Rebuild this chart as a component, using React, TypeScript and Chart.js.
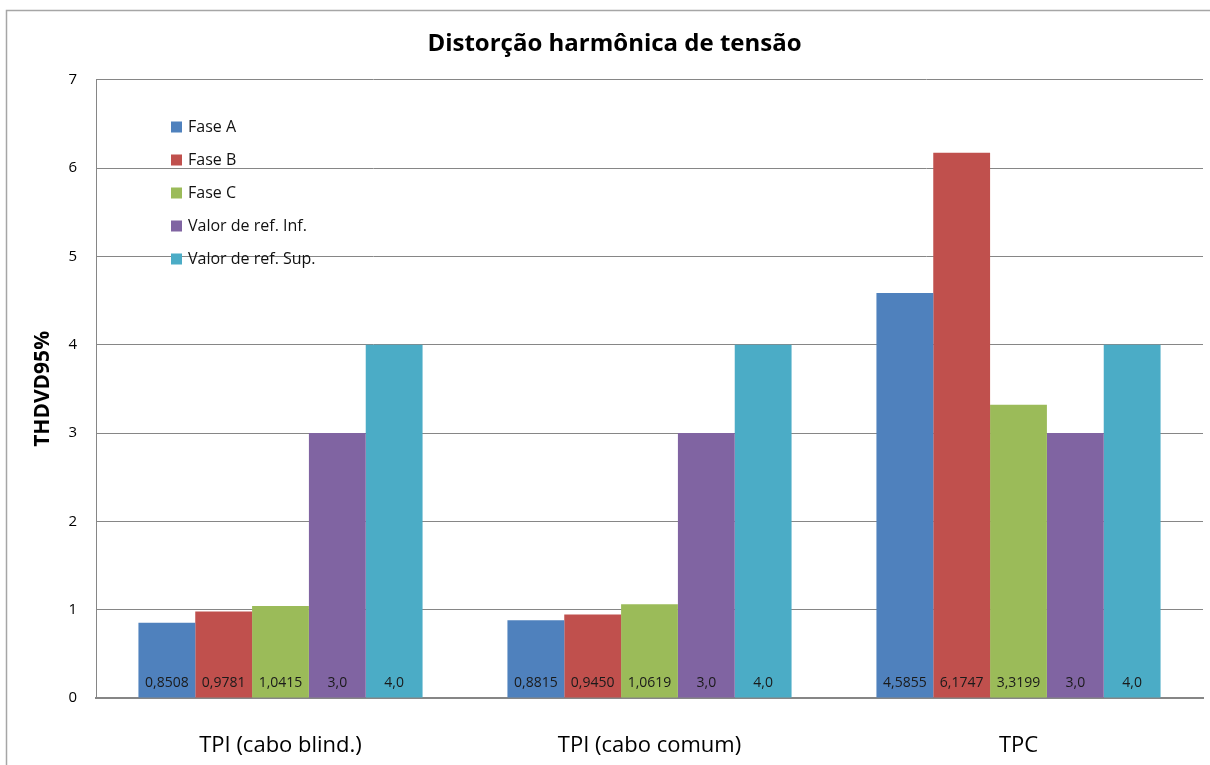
import React, { useEffect, useRef } from "react";
import { Chart, registerables } from "chart.js";

Chart.register(...registerables);

const categories = ["TPI (cabo blind.)", "TPI (cabo comum)", "TPC"];
const seriesNames = ["Fase A", "Fase B", "Fase C", "Valor de ref. Inf.", "Valor de ref. Sup."];
const faseA = [0.8508, 0.8815, 4.5855];
const faseB = [0.9781, 0.945, 6.1747];
const faseC = [1.0415, 1.0619, 3.3199];
const refInf = [3.0, 3.0, 3.0];
const refSup = [4.0, 4.0, 4.0];
const labelDecimals = [4, 4, 4, 1, 1];
const seriesColors = ["#4F81BD", "#C0504D", "#9BBB59", "#8064A2", "#4BACC6"];
const yMin = 0;
const yMax = 7;
const yStep = 1;
const chartTitle = "Distorção harmônica de tensão";
const yTitle = "THDVD95%";

const FONT = "'Open Sans', 'Liberation Sans', sans-serif";
const GRID = "#868686";

const framePlugin = {
  id: "frame",
  beforeDraw(chart: any) {
    const { ctx, width, height } = chart;
    ctx.save();
    ctx.fillStyle = "#ffffff";
    ctx.fillRect(0, 0, width, height);
    ctx.strokeStyle = "#a6a6a6";
    ctx.lineWidth = 1.5;
    ctx.strokeRect(6.5, 10.5, width + 20, height + 20);
    ctx.restore();
  },
};

const valueLabelPlugin = {
  id: "valueLabels",
  afterDatasetsDraw(chart: any) {
    const { ctx } = chart;
    ctx.save();
    ctx.font = `14px ${FONT}`;
    ctx.fillStyle = "#1a1a1a";
    ctx.textAlign = "center";
    ctx.textBaseline = "middle";
    chart.data.datasets.forEach((ds: any, di: number) => {
      const meta = chart.getDatasetMeta(di);
      meta.data.forEach((bar: any, i: number) => {
        const v = ds.data[i] as number;
        const txt = v.toFixed(labelDecimals[di]).replace(".", ",");
        ctx.fillText(txt, bar.x, bar.base - 14);
      });
    });
    ctx.restore();
  },
};

const customLegendPlugin = {
  id: "customLegend",
  afterDraw(chart: any) {
    const { ctx } = chart;
    ctx.save();
    ctx.font = `16px ${FONT}`;
    ctx.textBaseline = "middle";
    ctx.textAlign = "left";
    chart.data.datasets.forEach((ds: any, i: number) => {
      const cy = 127 + i * 33;
      ctx.fillStyle = ds.backgroundColor;
      ctx.fillRect(171, cy - 5.5, 11, 11);
      ctx.fillStyle = "#111111";
      ctx.fillText(ds.label, 188, cy);
    });
    ctx.restore();
  },
};

export default function App() {
  const canvasRef = useRef<HTMLCanvasElement | null>(null);

  useEffect(() => {
    const canvas = canvasRef.current;
    if (!canvas) return;
    const seriesData = [faseA, faseB, faseC, refInf, refSup];
    const chart = new Chart(canvas, {
      type: "bar",
      data: {
        labels: categories,
        datasets: seriesData.map((d, i) => ({
          label: seriesNames[i],
          data: d,
          backgroundColor: seriesColors[i],
          borderWidth: 0,
          barPercentage: 1,
          categoryPercentage: 0.77,
        })),
      },
      options: {
        responsive: false,
        animation: false,
        layout: { padding: { top: 10, left: 26, right: 7, bottom: 0 } },
        plugins: {
          legend: { display: false },
          tooltip: { enabled: false },
          title: {
            display: true,
            text: chartTitle,
            color: "#000000",
            font: { family: FONT, size: 24, weight: "bold" },
            padding: { top: 20, bottom: 21 },
          },
        },
        scales: {
          x: {
            grid: { display: false, drawTicks: false },
            border: { display: true, color: GRID, width: 2 },
            ticks: { color: "#000000", font: { family: FONT, size: 22 }, padding: 35 },
            afterFit(scale: any) {
              scale.height = 67;
            },
          },
          y: {
            min: yMin,
            max: yMax,
            ticks: {
              stepSize: yStep,
              color: "#000000",
              font: { family: FONT, size: 15 },
              padding: 19,
            },
            grid: { color: GRID, lineWidth: 1, drawTicks: false },
            border: { display: true, color: GRID, width: 1 },
            title: {
              display: true,
              text: yTitle,
              color: "#000000",
              font: { family: FONT, size: 21, weight: "bold" },
              padding: { top: 4, bottom: 0 },
            },
            afterFit(scale: any) {
              scale.width = 70;
            },
          },
        },
      },
      plugins: [framePlugin, valueLabelPlugin, customLegendPlugin],
    });
    return () => chart.destroy();
  }, []);

  return (
    <div style={{ position: "absolute", left: 0, top: 0, width: 1210, height: 765, background: "#fff" }}>
      <canvas ref={canvasRef} width={1210} height={765} style={{ display: "block" }} />
    </div>
  );
}
